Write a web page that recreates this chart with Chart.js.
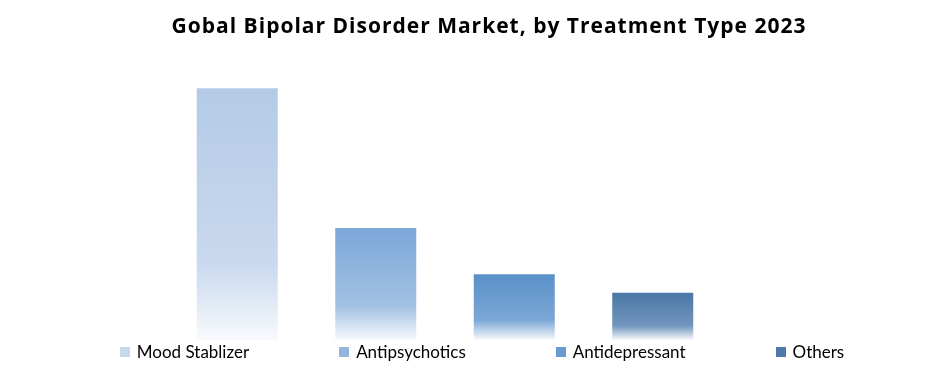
<!DOCTYPE html>
<html>
<head>
<meta charset="utf-8">
<script src="https://cdn.jsdelivr.net/npm/chart.js@4"></script>
<style>
  body { margin: 0; background: #fff; }
  #wrap { position: relative; width: 934px; height: 371px; }
  #box { position: absolute; left: 0; top: 0; width: 934px; height: 342px; }
  #legend { position: absolute; left: 30px; top: 341px; width: 904px; display: flex; justify-content: center; gap: 90px;
            font-family: Lato, "Liberation Sans", sans-serif; font-size: 17px; color: #000; }
  #legend span.item { display: flex; align-items: center; }
  #legend i { display: inline-block; width: 10px; height: 10px; margin-right: 7px; }
</style>
</head>
<body>
<div id="wrap">
  <div id="box"><canvas id="bdChart"></canvas></div>
  <div id="legend"></div>
</div>
<script>
// chart data
const categories = ["Mood Stablizer", "Antipsychotics", "Antidepressant", "Others"];
const shareValues = [52.8, 23.5, 13.8, 9.9];
const topColors = ["#b4cae6", "#7ba7d8", "#5a90c8", "#4a77a5"];
const midColors = ["#c9d9ee", "#a3c1e4", "#7ca8d6", "#7396be"];
const legendColors = ["#c8d8ec", "#94b5de", "#6a9ad0", "#4e79a8"];

// vertical fade to white for each bar
function barGradient(context) {
    const chart = context.chart;
    if (!chart.chartArea || context.dataIndex === undefined) return topColors[0];
    const i = context.dataIndex;
    const yScale = chart.scales.y;
    const top = yScale.getPixelForValue(shareValues[i]);
    const bottom = yScale.getPixelForValue(0);
    const g = chart.ctx.createLinearGradient(0, top, 0, bottom);
    g.addColorStop(0, topColors[i]);
    g.addColorStop(0.7, midColors[i]);
    g.addColorStop(1, "#f8fafd");
    return g;
}

// wider tracking for the title text
const titleSpacing = {
    id: 'titleSpacing',
    beforeDraw(chart) { chart.ctx.letterSpacing = '1px'; },
    beforeDatasetsDraw(chart) { chart.ctx.letterSpacing = '0px'; }
};

const ctx = document.getElementById("bdChart").getContext("2d");
new Chart(ctx, {
    type: 'bar',
    data: {
        labels: categories,
        datasets: [{
            data: shareValues,
            backgroundColor: barGradient,
            borderWidth: 0,
            barPercentage: 0.585,
            categoryPercentage: 1
        }]
    },
    options: {
        responsive: true,
        maintainAspectRatio: false,
        animation: false,
        layout: { padding: { left: 44, right: 0, top: 0, bottom: 2 } },
        plugins: {
            legend: { display: false },
            tooltip: { enabled: false },
            title: {
                display: true,
                text: 'Gobal Bipolar Disorder Market, by Treatment Type 2023',
                color: '#000',
                font: { family: '"Open Sans", sans-serif', size: 21, weight: 'bold' },
                padding: { top: 14, bottom: 10 }
            }
        },
        scales: {
            x: { display: false },
            y: {
                position: 'left',
                min: 0,
                max: 61,
                ticks: { display: false },
                grid: { display: false },
                border: { display: false },
                afterFit: (s) => { s.width = 124; }
            },
            y2: {
                position: 'right',
                min: 0,
                max: 61,
                ticks: { display: false },
                grid: { display: false },
                border: { display: false },
                afterFit: (s) => { s.width = 212; }
            }
        }
    },
    plugins: [titleSpacing]
});

// html legend
const legendEl = document.getElementById("legend");
categories.forEach((name, i) => {
    const item = document.createElement("span");
    item.className = "item";
    const sw = document.createElement("i");
    sw.style.background = legendColors[i];
    item.appendChild(sw);
    item.appendChild(document.createTextNode(name));
    legendEl.appendChild(item);
});
</script>
</body>
</html>
